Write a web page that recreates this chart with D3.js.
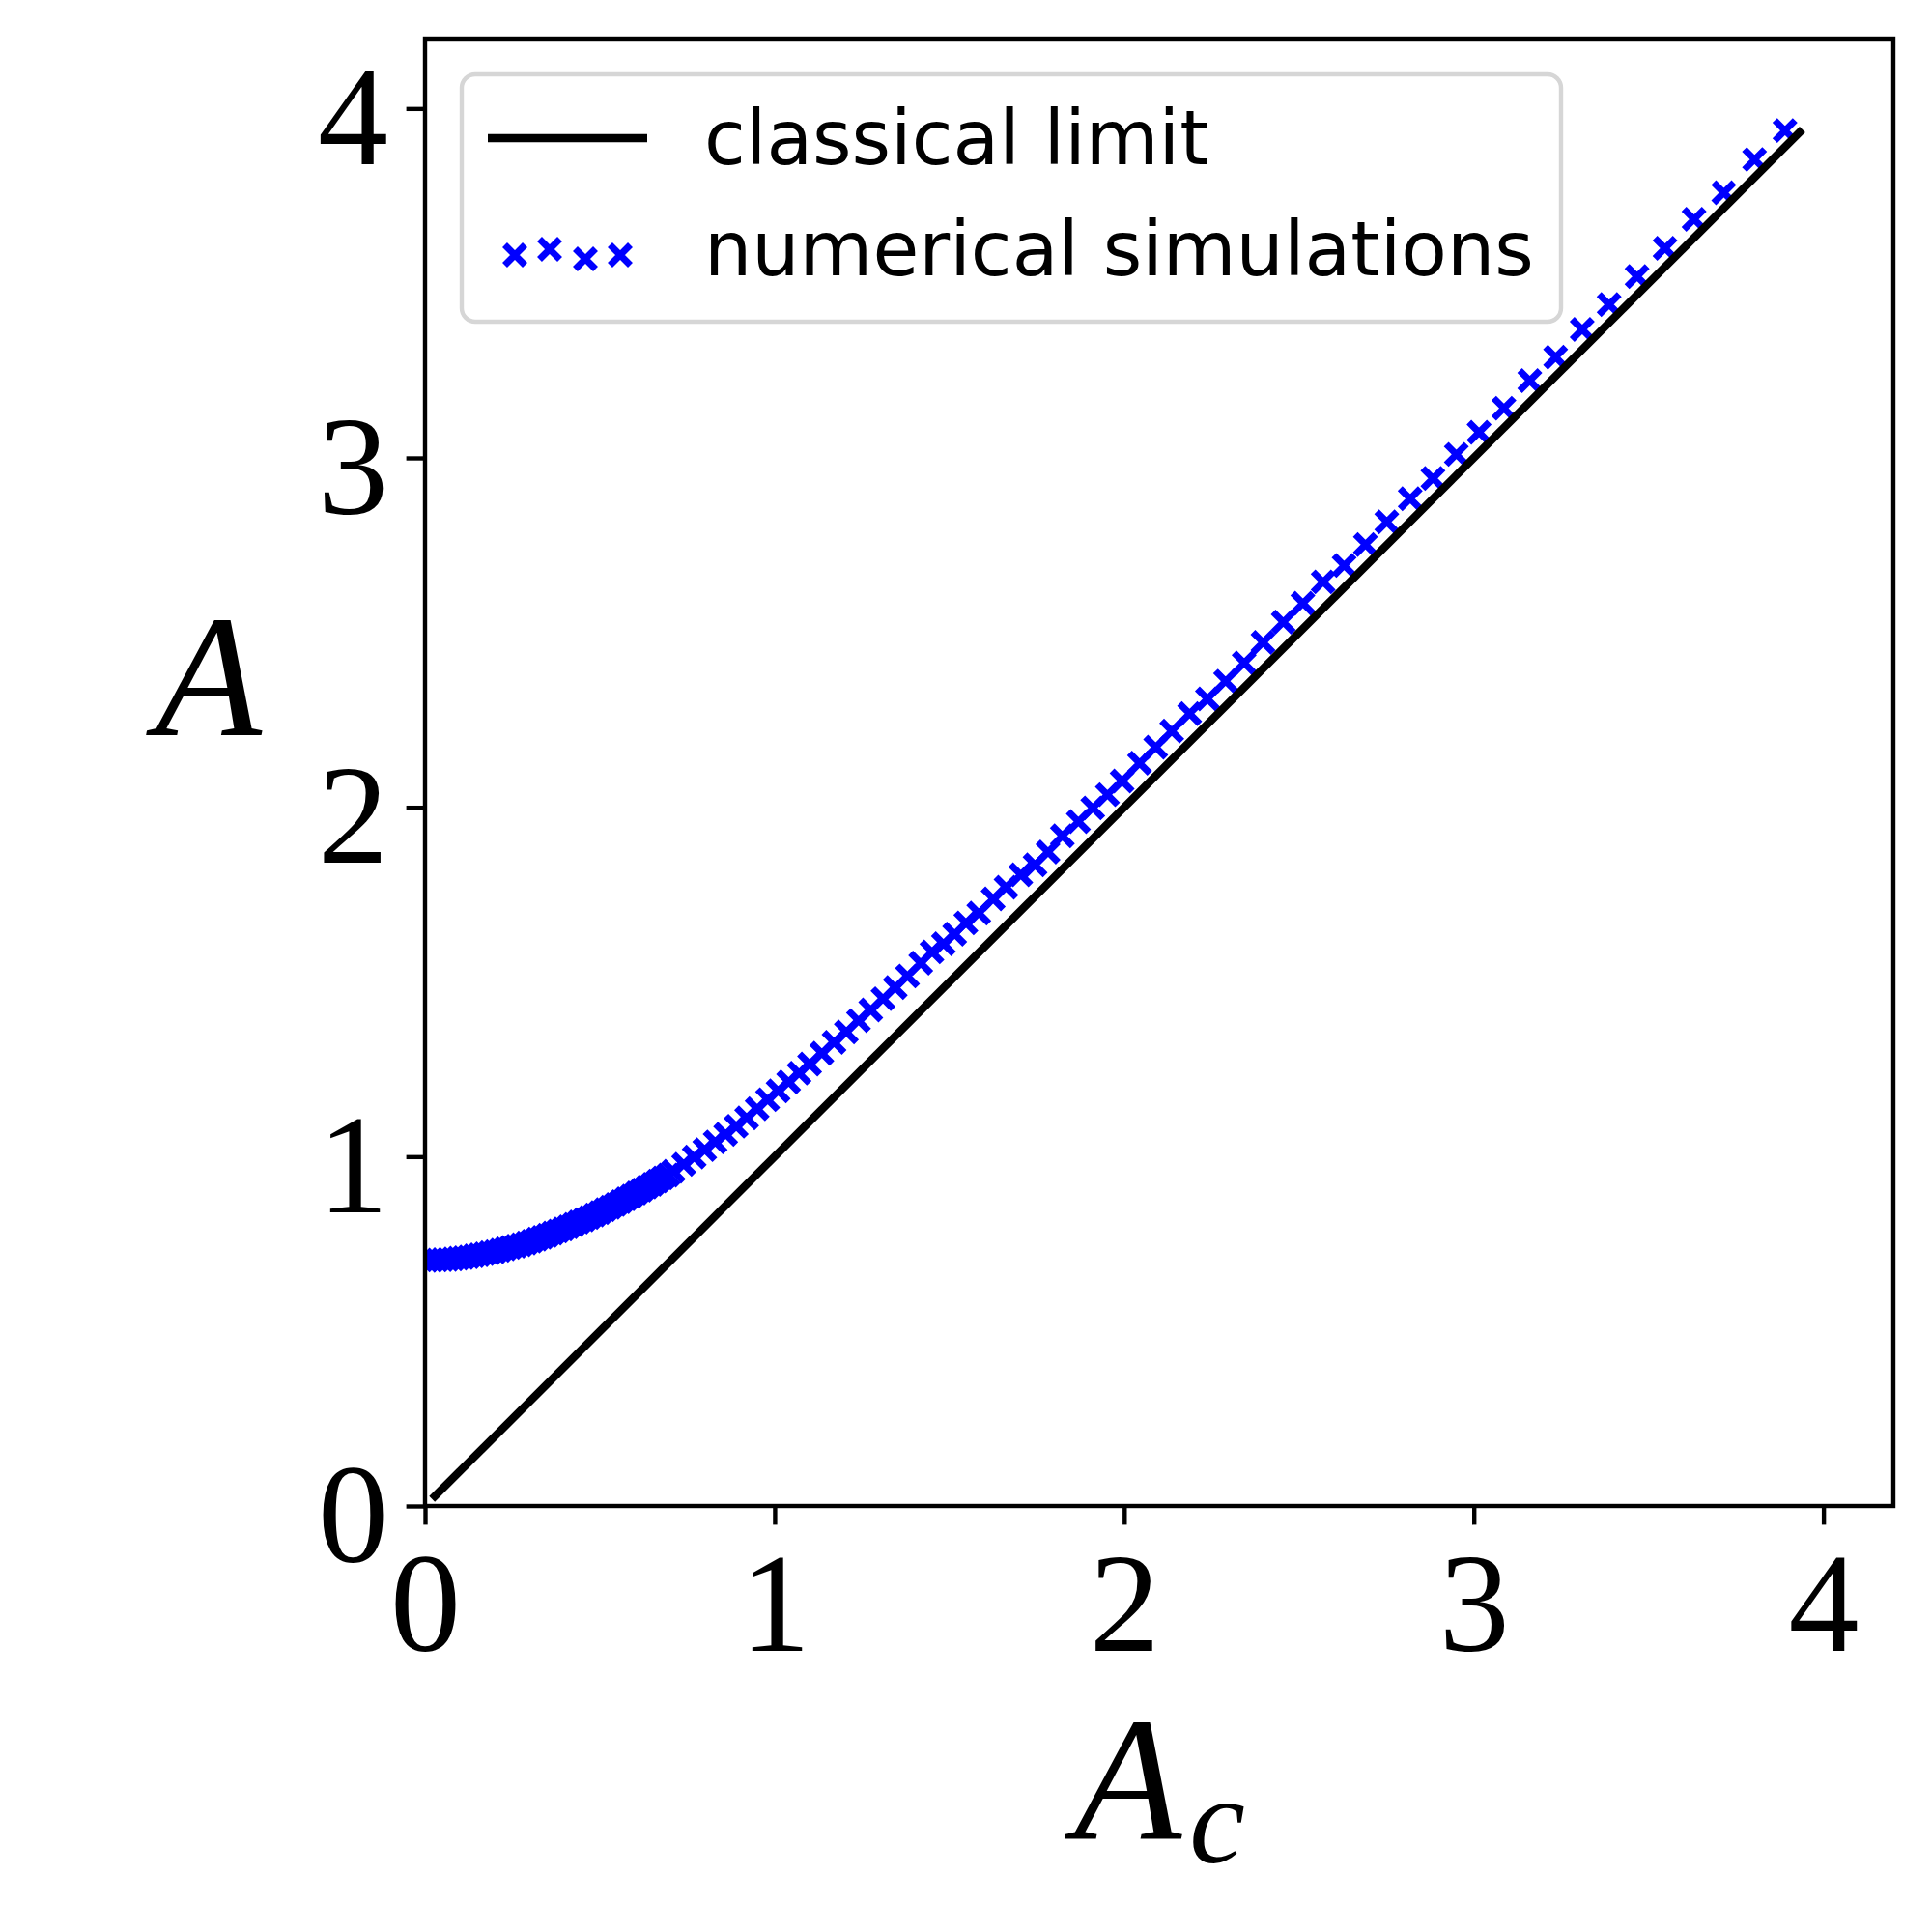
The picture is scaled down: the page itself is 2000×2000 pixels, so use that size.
<!DOCTYPE html>
<html>
<head>
<meta charset="utf-8">
<script src="https://cdn.jsdelivr.net/npm/d3@7"></script>
<style>
  html, body { margin: 0; padding: 0; background: #ffffff; }
  svg { display: block; }
</style>
</head>
<body>
<script>
// ---------------- data ----------------
const xTicks = [0, 1, 2, 3, 4];
const yTicks = [0, 1, 2, 3, 4];
const legendLabels = ["classical limit", "numerical simulations"];
const classicalAc = [0.02, 3.94];
const simAc = [
  0.005, 0.02, 0.035, 0.05, 0.065, 0.08, 0.095, 0.11, 0.125, 0.14,
  0.155, 0.17, 0.185, 0.20, 0.215, 0.23, 0.245, 0.26, 0.275, 0.29,
  0.305, 0.32, 0.335, 0.35, 0.365, 0.38, 0.395, 0.41, 0.425, 0.44,
  0.455, 0.47, 0.485, 0.50, 0.515, 0.53, 0.545, 0.56, 0.575, 0.59,
  0.605, 0.62, 0.635, 0.65, 0.665, 0.68, 0.695, 0.71, 0.74,
  0.77, 0.80, 0.83, 0.86, 0.89, 0.92, 0.95, 0.98,
  1.01, 1.04, 1.07, 1.10, 1.135, 1.17, 1.205, 1.24, 1.275, 1.31,
  1.345, 1.38, 1.418, 1.450, 1.483, 1.515, 1.547, 1.584, 1.625, 1.662,
  1.704, 1.745, 1.782, 1.823, 1.869, 1.910, 1.952, 1.994, 2.044, 2.090,
  2.136, 2.187, 2.238, 2.290, 2.343, 2.397, 2.455, 2.511, 2.569, 2.629,
  2.690, 2.751, 2.818, 2.883, 2.950, 3.015, 3.086, 3.160, 3.234, 3.310,
  3.387, 3.467, 3.547, 3.630, 3.715, 3.803, 3.890
];
const simA = [
  0.703, 0.703, 0.704, 0.705, 0.706, 0.707, 0.709, 0.711, 0.713, 0.716,
  0.719, 0.722, 0.725, 0.728, 0.732, 0.736, 0.740, 0.744, 0.748, 0.753,
  0.758, 0.764, 0.769, 0.775, 0.781, 0.787, 0.793, 0.799, 0.806, 0.813,
  0.819, 0.826, 0.833, 0.840, 0.848, 0.855, 0.863, 0.871, 0.879, 0.887,
  0.896, 0.904, 0.913, 0.921, 0.930, 0.939, 0.947, 0.958, 0.978,
  0.999, 1.020, 1.042, 1.064, 1.087, 1.111, 1.137, 1.163,
  1.188, 1.214, 1.239, 1.265, 1.296, 1.327, 1.357, 1.389, 1.420, 1.452,
  1.484, 1.517, 1.554, 1.586, 1.609, 1.637, 1.669, 1.697, 1.738, 1.771,
  1.807, 1.835, 1.872, 1.918, 1.959, 1.998, 2.036, 2.075, 2.126, 2.172,
  2.218, 2.268, 2.310, 2.361, 2.413, 2.472, 2.530, 2.584, 2.645, 2.692,
  2.752, 2.817, 2.883, 2.941, 3.010, 3.073, 3.142, 3.221, 3.288, 3.368,
  3.439, 3.519, 3.600, 3.683, 3.759, 3.854, 3.937
];

// ---------------- layout ----------------
const W = 2000, H = 2000;
const L = 440, R = 1960, T = 40, B = 1559;
const serif = "'Liberation Serif', 'Times New Roman', serif";
const sans = "'DejaVu Sans', sans-serif";
const tickLen = 19.4, axisLW = 4.4;
const markerHalf = 10.5, markerLW = 7, lineLW = 8.3;
const blue = "#0000ff";

const svg = d3.select("body").append("svg")
  .attr("width", W).attr("height", H)
  .attr("viewBox", `0 0 ${W} ${H}`);
svg.append("rect").attr("width", W).attr("height", H).attr("fill", "#fff");

const x = d3.scaleLinear().domain([0, 4.2]).range([L, R]);
const y = d3.scaleLinear().domain([0, 4.2]).range([B, T]);

const xMarkPath = (h) => `M${-h},${-h}L${h},${h}M${-h},${h}L${h},${-h}`;

svg.append("defs").append("clipPath").attr("id", "clip")
  .append("rect").attr("x", L).attr("y", T).attr("width", R - L).attr("height", B - T);

const plot = svg.append("g").attr("clip-path", "url(#clip)");

// simulation markers (below the line, like matplotlib zorder)
plot.append("g").selectAll("path.sim")
  .data(simAc.map((v, i) => [v, simA[i]]))
  .join("path")
  .attr("class", "sim")
  .attr("transform", d => `translate(${x(d[0])},${y(d[1])})`)
  .attr("d", xMarkPath(markerHalf))
  .attr("stroke", blue).attr("stroke-width", markerLW)
  .attr("stroke-linecap", "butt").attr("fill", "none");

// classical limit line A = Ac
const line = d3.line().x(d => x(d)).y(d => y(d));
plot.append("path")
  .datum(classicalAc)
  .attr("d", line)
  .attr("fill", "none").attr("stroke", "#000")
  .attr("stroke-width", lineLW).attr("stroke-linecap", "butt");

// axes
const xAxis = d3.axisBottom(x).tickValues(xTicks).tickSize(tickLen).tickFormat(d3.format("d"));
const yAxis = d3.axisLeft(y).tickValues(yTicks).tickSize(tickLen).tickFormat(d3.format("d"));

const gx = svg.append("g").attr("transform", `translate(0,${B})`).call(xAxis);
gx.select(".domain").remove();
gx.selectAll(".tick line").attr("stroke", "#000").attr("stroke-width", axisLW);
gx.selectAll(".tick text")
  .attr("y", 150).attr("dy", null)
  .attr("font-family", serif).attr("font-size", 146).attr("fill", "#000");

const gy = svg.append("g").attr("transform", `translate(${L},0)`).call(yAxis);
gy.select(".domain").remove();
gy.selectAll(".tick line").attr("stroke", "#000").attr("stroke-width", axisLW);
gy.selectAll(".tick text")
  .attr("x", -38).attr("y", 57).attr("dy", null)
  .attr("text-anchor", "end")
  .attr("font-family", serif).attr("font-size", 146).attr("fill", "#000");

// frame
svg.append("rect")
  .attr("x", L).attr("y", T).attr("width", R - L).attr("height", B - T)
  .attr("fill", "none").attr("stroke", "#000").attr("stroke-width", axisLW);

// axis labels
svg.append("text")
  .attr("x", 216).attr("y", 761)
  .attr("text-anchor", "middle")
  .attr("font-family", serif).attr("font-style", "italic")
  .attr("font-size", 180).attr("fill", "#000")
  .text("A");

const xl = svg.append("text")
  .attr("x", 1112).attr("y", 1904)
  .attr("font-family", serif).attr("font-style", "italic")
  .attr("font-size", 182).attr("fill", "#000");
xl.append("tspan").text("A");
xl.append("tspan").attr("font-size", 130).attr("dy", 24).attr("dx", 8).text("c");

// legend
const lg = svg.append("g");
lg.append("rect")
  .attr("x", 478).attr("y", 77).attr("width", 1138).attr("height", 256)
  .attr("rx", 14).attr("ry", 14)
  .attr("fill", "#fff").attr("stroke", "#d6d6d6").attr("stroke-width", 4.4);
lg.append("line")
  .attr("x1", 505).attr("x2", 670).attr("y1", 143).attr("y2", 143)
  .attr("stroke", "#000").attr("stroke-width", lineLW);
const legendMarkers = [[533, 264], [569, 258], [606, 268], [642, 264]];
lg.selectAll("path.lm").data(legendMarkers).join("path")
  .attr("class", "lm")
  .attr("transform", d => `translate(${d[0]},${d[1]})`)
  .attr("d", xMarkPath(markerHalf))
  .attr("stroke", blue).attr("stroke-width", markerLW).attr("fill", "none");
lg.selectAll("text.lt").data(legendLabels).join("text")
  .attr("class", "lt")
  .attr("x", 729).attr("y", (d, i) => i === 0 ? 170 : 285)
  .attr("font-family", sans).attr("font-size", 77.8).attr("fill", "#000")
  .text(d => d);
</script>
</body>
</html>
